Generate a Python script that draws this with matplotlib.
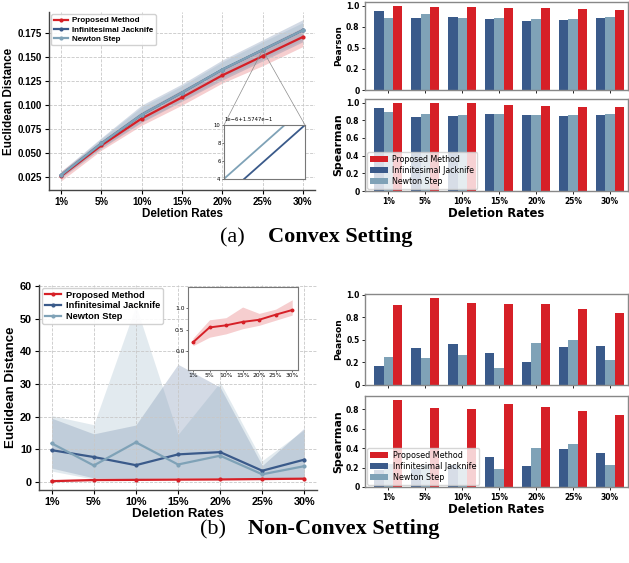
import numpy as np
import matplotlib
matplotlib.use('Agg')
import matplotlib.pyplot as plt
from matplotlib.ticker import FuncFormatter, MaxNLocator
from mpl_toolkits.axes_grid1.inset_locator import mark_inset

# ---- data ----
rates = ['1%', '5%', '10%', '15%', '20%', '25%', '30%']

# convex setting: euclidean distance (mean, lower, upper)
cvx_prop = [0.026, 0.058, 0.086, 0.108, 0.131, 0.151, 0.171]
cvx_prop_lo = [0.021, 0.053, 0.079, 0.100, 0.123, 0.141, 0.161]
cvx_prop_hi = [0.031, 0.063, 0.093, 0.116, 0.139, 0.160, 0.181]
cvx_ij = [0.027, 0.060, 0.090, 0.113, 0.137, 0.15748, 0.178]
cvx_ij_lo = [0.024, 0.055, 0.082, 0.104, 0.126, 0.146, 0.166]
cvx_ij_hi = [0.031, 0.066, 0.100, 0.122, 0.147, 0.168, 0.189]
cvx_nt = [0.027, 0.060, 0.090, 0.113, 0.137002, 0.157482, 0.178]
cvx_nt_lo = [0.025, 0.056, 0.083, 0.105, 0.128, 0.148, 0.168]
cvx_nt_hi = [0.030, 0.065, 0.098, 0.120, 0.145, 0.166, 0.186]

# convex setting: correlations
cvx_pear_prop = [0.995, 0.985, 0.98, 0.975, 0.97, 0.965, 0.95]
cvx_pear_ij = [0.94, 0.86, 0.87, 0.84, 0.82, 0.83, 0.855]
cvx_pear_nt = [0.86, 0.905, 0.85, 0.855, 0.845, 0.84, 0.865]
cvx_spear_prop = [0.99, 0.99, 0.99, 0.975, 0.96, 0.955, 0.945]
cvx_spear_ij = [0.94, 0.835, 0.845, 0.865, 0.86, 0.845, 0.86]
cvx_spear_nt = [0.89, 0.865, 0.855, 0.875, 0.86, 0.86, 0.865]

# non-convex setting: euclidean distance
ncv_prop = [0.2, 0.55, 0.6, 0.68, 0.73, 0.85, 0.96]
ncv_prop_lo = [0.12, 0.32, 0.4, 0.52, 0.6, 0.72, 0.84]
ncv_prop_hi = [0.3, 0.73, 0.78, 1.03, 0.88, 0.98, 1.2]
ncv_ij = [9.7, 7.6, 5.1, 8.4, 9.1, 3.4, 6.8]
ncv_ij_lo = [4.2, 1.2, 1.0, 1.3, 1.2, 0.8, 1.0]
ncv_ij_hi = [19.5, 14.7, 17.4, 36.0, 29.0, 5.0, 16.5]
ncv_nt = [11.8, 5.0, 12.1, 5.3, 8.0, 2.3, 4.8]
ncv_nt_lo = [3.3, 0.8, 0.9, 0.9, 0.9, 0.6, 0.8]
ncv_nt_hi = [20.3, 17.5, 54.0, 14.5, 30.5, 6.5, 16.0]

# non-convex setting: correlations
ncv_pear_prop = [0.885, 0.96, 0.91, 0.895, 0.895, 0.845, 0.80]
ncv_pear_ij = [0.21, 0.41, 0.455, 0.35, 0.26, 0.425, 0.435]
ncv_pear_nt = [0.31, 0.30, 0.33, 0.185, 0.465, 0.50, 0.28]
ncv_spear_prop = [0.89, 0.815, 0.805, 0.855, 0.82, 0.785, 0.74]
ncv_spear_ij = [0.17, 0.18, 0.23, 0.31, 0.22, 0.39, 0.345]
ncv_spear_nt = [0.235, 0.225, 0.20, 0.18, 0.40, 0.44, 0.225]

RED = '#d62027'
DARK = '#3a5a8a'
LIGHT = '#7fa2b7'
SANS = 'Liberation Sans'

x = np.arange(len(rates))


def line_panel(ax, series, tick_fs, label_fs, leg_fs):
    for mean, lo, hi, c, name in series:
        ax.fill_between(x, lo, hi, color=c, alpha=0.22, lw=0)
        ax.plot(x, mean, color=c, lw=1.6, marker='o', ms=2, label=name)
    ax.set_xlim(-0.3, 6.3)
    ax.set_xticks(x)
    ax.set_xticklabels(rates)
    for lab in ax.get_xticklabels() + ax.get_yticklabels():
        lab.set_fontfamily(SANS)
        lab.set_fontweight('bold')
        lab.set_fontsize(tick_fs)
    ax.grid(True, ls='--', color='#c8c8c8', lw=0.6)
    ax.spines['top'].set_visible(False)
    ax.spines['right'].set_visible(False)
    for s in ['left', 'bottom']:
        ax.spines[s].set_color('#444444')
        ax.spines[s].set_linewidth(1.0)
    ax.tick_params(length=3, width=0.8, pad=2)
    ax.set_xlabel('Deletion Rates', family=SANS, weight='bold', fontsize=label_fs, labelpad=1)
    ax.set_ylabel('Euclidean Distance', family=SANS, weight='bold', fontsize=label_fs, labelpad=2)
    ax.legend(loc='upper left', prop={'family': SANS, 'weight': 'bold', 'size': leg_fs},
              handlelength=1.8, borderpad=0.3, labelspacing=0.2, handletextpad=0.5,
              borderaxespad=0.3, framealpha=0.9)


def bar_panel(ax, prop, ij, nt, ylabel, ylabel_fs, show_x):
    w = 0.25
    bij = ax.bar(x - w, ij, w, color=DARK, label='Infinitesimal Jacknife')
    bnt = ax.bar(x, nt, w, color=LIGHT, label='Newton Step')
    bpr = ax.bar(x + w, prop, w, color=RED, label='Proposed Method')
    ax.set_xlim(-0.63, 6.49)
    ax.set_xticks(x)
    if show_x:
        ax.set_xticklabels(rates, fontsize=5.7, weight='bold')
        ax.set_xlabel('Deletion Rates', fontsize=8.4, weight='bold', labelpad=1)
    else:
        ax.set_xticklabels([])
        ax.tick_params(axis='x', length=0)
    ax.yaxis.set_major_formatter(FuncFormatter(lambda v, p: '0' if v == 0 else f'{v:.1f}'))
    for lab in ax.get_yticklabels():
        lab.set_fontweight('bold')
        lab.set_fontsize(5.5)
    ax.tick_params(length=2.5, width=0.6, pad=1.5, labelsize=5.5)
    for lab in ax.get_yticklabels():
        lab.set_fontweight('bold')
    for s in ax.spines.values():
        s.set_color('#888888')
        s.set_linewidth(1.0)
    ax.set_ylabel(ylabel, fontsize=ylabel_fs, weight='bold', labelpad=2)
    return bpr, bij, bnt


fig = plt.figure(figsize=(6.29, 5.63), dpi=100)

# ---------------- (a) convex ----------------
ax1 = fig.add_axes([0.0779, 0.6625, 0.4229, 0.3162])
line_panel(ax1, [(cvx_prop, cvx_prop_lo, cvx_prop_hi, RED, 'Proposed Method'),
                 (cvx_ij, cvx_ij_lo, cvx_ij_hi, DARK, 'Infinitesimal Jacknife'),
                 (cvx_nt, cvx_nt_lo, cvx_nt_hi, LIGHT, 'Newton Step')],
           7.0, 8.4, 5.8)
ax1.set_ylim(0.0115, 0.197)
ax1.set_yticks([0.025, 0.05, 0.075, 0.1, 0.125, 0.15, 0.175])
ax1.set_yticklabels(['0.025', '0.050', '0.075', '0.100', '0.125', '0.150', '0.175'],
                    family=SANS, weight='bold', fontsize=7.0)

# zoomed view around the 25% point
axin = fig.add_axes([0.3561, 0.6821, 0.1288, 0.0959])
axin.plot(x, cvx_ij, color=DARK, lw=1.3)
axin.plot(x, cvx_nt, color=LIGHT, lw=1.3)
axin.set_xlim(5 - 3.9e-4, 5)
axin.set_ylim(0.157474, 0.15748)
axin.set_xticks([])
axin.yaxis.set_major_locator(MaxNLocator(4))
axin.tick_params(labelsize=3.8, length=1.5, width=0.4, pad=1)
axin.yaxis.get_offset_text().set_fontsize(3.8)
for s in axin.spines.values():
    s.set_color('#777777')
    s.set_linewidth(0.8)
mark_inset(ax1, axin, loc1=2, loc2=1, fc='none', ec='0.55', lw=0.5)

ax2 = fig.add_axes([0.5803, 0.8401, 0.4181, 0.1563])
bar_panel(ax2, cvx_pear_prop, cvx_pear_ij, cvx_pear_nt, 'Pearson', 6.4, False)
ax3 = fig.add_axes([0.5803, 0.6607, 0.4181, 0.1634])
h = bar_panel(ax3, cvx_spear_prop, cvx_spear_ij, cvx_spear_nt, 'Spearman', 7.9, True)
ax3.legend(h, ['Proposed Method', 'Infinitesimal Jacknife', 'Newton Step'], loc='lower left',
           fontsize=5.7, handlelength=2.2, borderpad=0.35, labelspacing=0.25,
           handletextpad=0.6, borderaxespad=0.3, framealpha=0.8, edgecolor='#cccccc')

# ---------------- (b) non-convex ----------------
ax4 = fig.add_axes([0.0620, 0.1297, 0.442, 0.3641])
line_panel(ax4, [(ncv_prop, ncv_prop_lo, ncv_prop_hi, RED, 'Proposed Method'),
                 (ncv_ij, ncv_ij_lo, ncv_ij_hi, DARK, 'Infinitesimal Jacknife'),
                 (ncv_nt, ncv_nt_lo, ncv_nt_hi, LIGHT, 'Newton Step')],
           7.8, 9.5, 6.7)
ax4.set_ylim(-2.5, 60.3)
ax4.set_yticks([0, 10, 20, 30, 40, 50, 60])
ax4.set_yticklabels(['0', '10', '20', '30', '40', '50', '60'],
                    family=SANS, weight='bold', fontsize=7.8)

# proposed method on its own scale
axin2 = fig.add_axes([0.2989, 0.3428, 0.1749, 0.1474])
axin2.fill_between(x, ncv_prop_lo, ncv_prop_hi, color=RED, alpha=0.22, lw=0)
axin2.plot(x, ncv_prop, color=RED, lw=1.4, marker='o', ms=1.8)
axin2.set_xlim(-0.3, 6.35)
axin2.set_ylim(-0.45, 1.5)
axin2.set_xticks(x)
axin2.set_xticklabels(rates)
axin2.set_yticks([0.0, 0.5, 1.0])
axin2.tick_params(labelsize=4.3, length=1.5, width=0.4, pad=1)
for s in axin2.spines.values():
    s.set_color('#777777')
    s.set_linewidth(0.8)

ax5 = fig.add_axes([0.5803, 0.3162, 0.4181, 0.1616])
bar_panel(ax5, ncv_pear_prop, ncv_pear_ij, ncv_pear_nt, 'Pearson', 6.6, False)
ax6 = fig.add_axes([0.5803, 0.135, 0.4181, 0.1616])
h = bar_panel(ax6, ncv_spear_prop, ncv_spear_ij, ncv_spear_nt, 'Spearman', 7.9, True)
ax6.legend(h, ['Proposed Method', 'Infinitesimal Jacknife', 'Newton Step'], loc='lower left',
           fontsize=5.8, handlelength=2.2, borderpad=0.35, labelspacing=0.25,
           handletextpad=0.6, borderaxespad=0.3, framealpha=0.8, edgecolor='#cccccc')

# sub-figure captions
SERIF = 'Liberation Serif'
fig.text(220 / 629, 1 - 242 / 563, '(a)', family=SERIF, fontsize=16, va='baseline')
fig.text(268 / 629, 1 - 242 / 563, 'Convex Setting', family=SERIF, weight='bold',
         fontsize=16, va='baseline')
fig.text(200 / 629, 1 - 534 / 563, '(b)', family=SERIF, fontsize=16, va='baseline')
fig.text(248 / 629, 1 - 534 / 563, 'Non-Convex Setting', family=SERIF, weight='bold',
         fontsize=16, va='baseline')

fig.savefig('out.png', dpi=100)
